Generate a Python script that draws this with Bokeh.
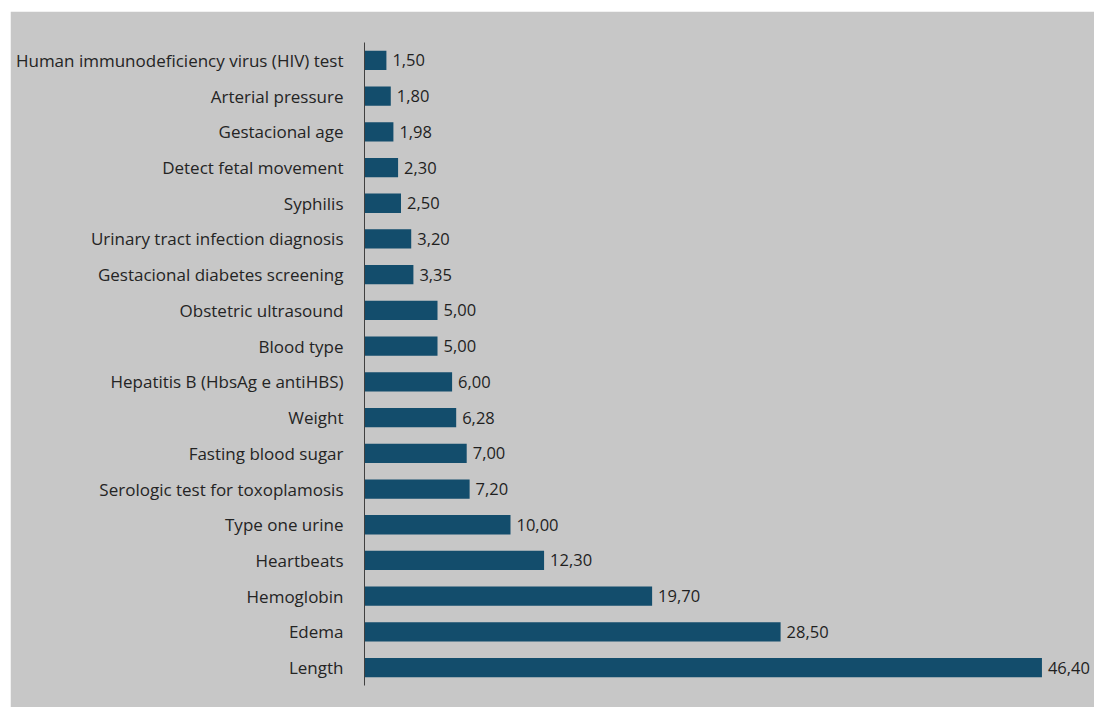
from bokeh.plotting import figure
from bokeh.models import ColumnDataSource, FactorRange, Range1d
from bokeh.core.properties import value
from bokeh.embed import file_html
from bokeh.resources import INLINE

categories = [
    "Human immunodeficiency virus (HIV) test",
    "Arterial pressure",
    "Gestacional age",
    "Detect fetal movement",
    "Syphilis",
    "Urinary tract infection diagnosis",
    "Gestacional diabetes screening",
    "Obstetric ultrasound",
    "Blood type",
    "Hepatitis B (HbsAg e antiHBS)",
    "Weight",
    "Fasting blood sugar",
    "Serologic test for toxoplamosis",
    "Type one urine",
    "Heartbeats",
    "Hemoglobin",
    "Edema",
    "Length",
]
values = [1.50, 1.80, 1.98, 2.30, 2.50, 3.20, 3.35, 5.00, 5.00, 6.00,
          6.28, 7.00, 7.20, 10.00, 12.30, 19.70, 28.50, 46.40]
labels = [f"{v:.2f}".replace(".", ",") for v in values]

src = ColumnDataSource(dict(cat=categories, val=values, lab=labels))

BG = "#c7c7c7"
FONT = "Open Sans"

p = figure(
    width=1084, height=696,
    y_range=FactorRange(factors=list(reversed(categories)), range_padding=0),
    x_range=Range1d(0, 50.0),
    output_backend="svg", toolbar_location=None,
    background_fill_color=BG, border_fill_color=BG,
    min_border_top=31, min_border_bottom=22, min_border_right=0,
    min_border_left=354,
    outline_line_color=BG, outline_line_width=2,
)
p.margin = (11, 0, 0, 10)

p.hbar(y="cat", right="val", left=0, height=0.54, source=src,
       fill_color="#134d6c", line_color=None)

p.text(x="val", y="cat", text="lab", source=src, x_offset=6,
       text_baseline="middle", text_align="left",
       text_font=value(FONT), text_font_size="16.5px", text_color="#1f1f1f")

p.xaxis.visible = False
p.xgrid.visible = False
p.ygrid.visible = False

ax = p.yaxis[0]
ax.axis_line_color = "#404040"
ax.axis_line_width = 1
ax.major_tick_line_color = None
ax.minor_tick_line_color = None
ax.major_label_standoff = 15
ax.major_label_text_font = FONT
ax.major_label_text_font_size = "17px"
ax.major_label_text_color = "#242424"

open("out.html", "w").write(file_html(p, INLINE))
